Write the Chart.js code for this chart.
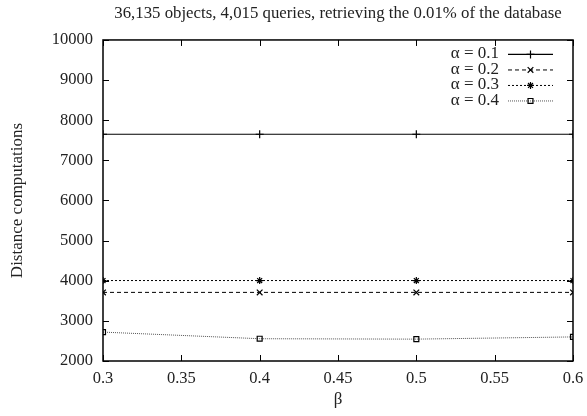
<!DOCTYPE html>
<html lang="en">
<head>
    <meta charset="UTF-8">
    <title>Distance computations vs beta</title>
    <script src="https://cdn.jsdelivr.net/npm/chart.js"></script>
    <style>
        body { margin: 0; background: #fff; }
        #wrap { width: 587px; height: 416px; }
    </style>
</head>
<body>
    <div id="wrap"><canvas id="chart" width="587" height="416"></canvas></div>

    <script>
        // data
        const betas = [0.3, 0.4, 0.5, 0.6];
        const alpha01 = [7650, 7650, 7650, 7650];
        const alpha02 = [3710, 3710, 3710, 3710];
        const alpha03 = [4005, 4005, 4005, 4005];
        const alpha04 = [2720, 2555, 2545, 2600];
        const seriesLabels = ['\u03b1 = 0.1', '\u03b1 = 0.2', '\u03b1 = 0.3', '\u03b1 = 0.4'];
        const xTicks = [0.3, 0.35, 0.4, 0.45, 0.5, 0.55, 0.6];
        const yTicks = [2000, 3000, 4000, 5000, 6000, 7000, 8000, 9000, 10000];

        const serif = "'Liberation Serif', 'DejaVu Serif', serif";

        function pts(vals) {
            return betas.map((b, i) => ({ x: b, y: vals[i] }));
        }

        const styles = [
            { dash: [], point: 'cross', color: '#000', width: 1.2 },
            { dash: [4, 3], point: 'crossRot', color: '#000', width: 1 },
            { dash: [2, 2], point: 'star', color: '#000', width: 1 },
            { dash: [1, 1], point: 'rect', color: '#555', width: 1 }
        ];
        const allVals = [alpha01, alpha02, alpha03, alpha04];

        const datasets = allVals.map((v, i) => ({
            label: seriesLabels[i],
            data: pts(v),
            borderColor: styles[i].color,
            borderWidth: styles[i].width,
            borderDash: styles[i].dash,
            pointStyle: styles[i].point,
            pointRadius: i === 2 ? 3.5 : (i === 3 ? 3.5 : 4),
            pointBorderColor: '#000',
            pointBackgroundColor: 'rgba(0,0,0,0)',
            pointBorderWidth: 1.2,
            fill: false,
            tension: 0
        }));

        // gnuplot-like frame with inward ticks and legend inside the plot
        const framePlugin = {
            id: 'frame',
            afterDraw(chart) {
                const { ctx, chartArea: a, scales } = chart;
                ctx.save();
                ctx.strokeStyle = '#000';
                ctx.lineWidth = 1.5;
                ctx.setLineDash([]);
                ctx.strokeRect(a.left, a.top, a.right - a.left, a.bottom - a.top);
                ctx.lineWidth = 1;
                const t = 6;
                scales.x.ticks.forEach(tk => {
                    const x = Math.round(scales.x.getPixelForValue(tk.value)) + 0.5;
                    ctx.beginPath();
                    ctx.moveTo(x, a.bottom); ctx.lineTo(x, a.bottom - t);
                    ctx.moveTo(x, a.top); ctx.lineTo(x, a.top + t);
                    ctx.stroke();
                });
                scales.y.ticks.forEach(tk => {
                    const y = Math.round(scales.y.getPixelForValue(tk.value)) + 0.5;
                    ctx.beginPath();
                    ctx.moveTo(a.left, y); ctx.lineTo(a.left + t, y);
                    ctx.moveTo(a.right, y); ctx.lineTo(a.right - t, y);
                    ctx.stroke();
                });

                // legend
                ctx.font = '17px ' + serif;
                ctx.textAlign = 'right';
                ctx.textBaseline = 'middle';
                const textRight = a.right - 74;
                const x0 = a.right - 65, x1 = a.right - 20;
                chart.data.datasets.forEach((ds, i) => {
                    const y = a.top + 14 + i * 15.5;
                    ctx.fillStyle = '#222';
                    ctx.fillText(ds.label, textRight, y);
                    ctx.strokeStyle = ds.borderColor;
                    ctx.lineWidth = ds.borderWidth;
                    ctx.setLineDash(ds.borderDash);
                    ctx.beginPath();
                    ctx.moveTo(x0, y + 0.5); ctx.lineTo(x1, y + 0.5);
                    ctx.stroke();
                    ctx.setLineDash([]);
                    ctx.strokeStyle = '#000';
                    ctx.fillStyle = 'rgba(0,0,0,0)';
                    ctx.lineWidth = 1.2;
                    Chart.helpers.drawPoint(ctx, {
                        pointStyle: ds.pointStyle,
                        radius: ds.pointRadius,
                        borderWidth: 1.2,
                        rotation: 0
                    }, (x0 + x1) / 2, y + 0.5);
                });
                ctx.restore();
            }
        };

        new Chart(document.getElementById('chart'), {
            type: 'line',
            data: { datasets: datasets },
            plugins: [framePlugin],
            options: {
                responsive: false,
                animation: false,
                layout: { padding: { left: 0, right: 14, top: 0, bottom: 0 } },
                plugins: {
                    legend: { display: false },
                    tooltip: { enabled: false },
                    title: {
                        display: true,
                        fullSize: false,
                        text: '36,135 objects, 4,015 queries, retrieving the 0.01% of the database',
                        color: '#222',
                        font: { family: serif, size: 16.8, weight: 'normal' },
                        padding: { top: 4, bottom: 15.8 }
                    }
                },
                scales: {
                    x: {
                        type: 'linear',
                        min: 0.3,
                        max: 0.6,
                        afterBuildTicks: s => { s.ticks = xTicks.map(v => ({ value: v })); },
                        afterFit: s => { s.height = 55; s.paddingLeft = 0; s.paddingRight = 0; },
                        grid: { display: false },
                        border: { display: false },
                        ticks: {
                            color: '#222',
                            font: { family: serif, size: 16.5 },
                            padding: 0,
                            maxRotation: 0,
                            callback: v => String(+v.toFixed(2))
                        },
                        title: {
                            display: true,
                            text: '\u03b2',
                            color: '#222',
                            font: { family: serif, size: 17 },
                            padding: { top: 0, bottom: 6 }
                        }
                    },
                    y: {
                        min: 2000,
                        max: 10000,
                        afterBuildTicks: s => { s.ticks = yTicks.map(v => ({ value: v })); },
                        afterFit: s => { s.width = 103; },
                        grid: { display: false },
                        border: { display: false },
                        ticks: {
                            color: '#222',
                            font: { family: serif, size: 16.5 },
                            padding: 2,
                            callback: v => String(v)
                        },
                        title: {
                            display: true,
                            text: 'Distance computations',
                            color: '#222',
                            font: { family: serif, size: 17 },
                            padding: { top: 7, bottom: 0 }
                        }
                    }
                }
            }
        });
    </script>
</body>
</html>
